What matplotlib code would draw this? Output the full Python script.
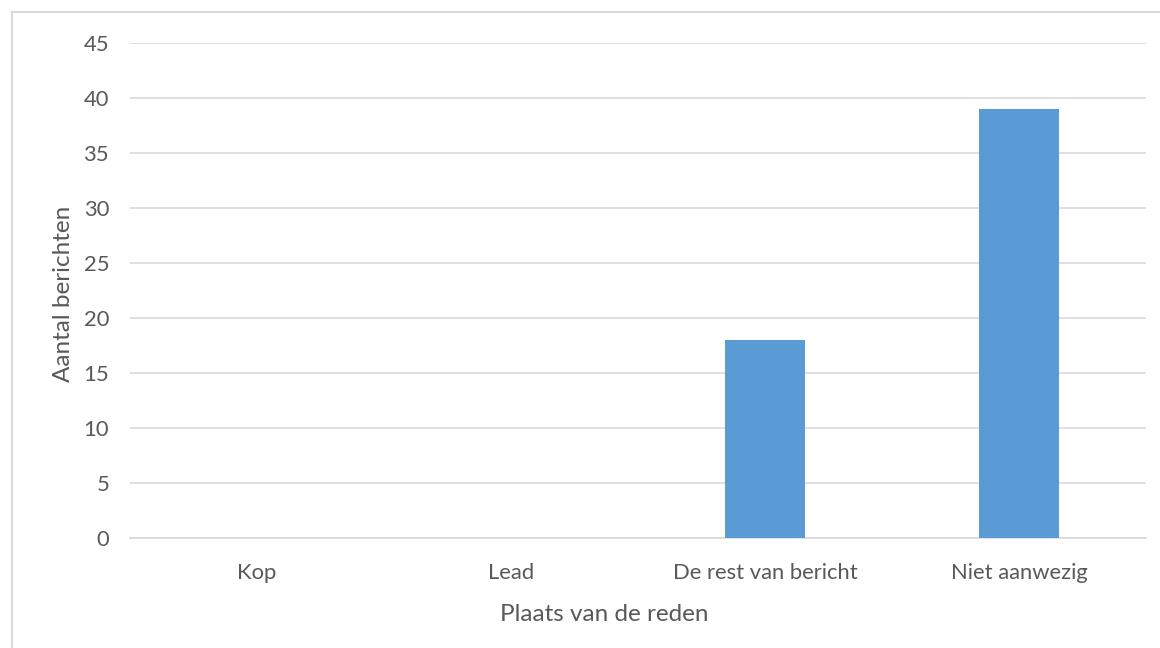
import matplotlib
matplotlib.use("Agg")
import matplotlib.pyplot as plt
from matplotlib.lines import Line2D

categories = ["Kop", "Lead", "De rest van bericht", "Niet aanwezig"]
counts = [0, 0, 18, 39]
y_ticks = [0, 5, 10, 15, 20, 25, 30, 35, 40, 45]

plt.rcParams['font.family'] = ['Lato', 'DejaVu Sans']

W, H = 1160, 648
fig = plt.figure(figsize=(W / 100, H / 100), dpi=100)
ax = fig.add_axes([130 / W, 1 - 538 / H, (1146 - 130) / W, (538 - 43) / H])

text_col = "#595959"
grid_col = "#D9D9D9"

ax.bar(range(len(categories)), counts, width=0.316, color="#5B9BD5", zorder=3)
ax.set_xlim(-0.5, len(categories) - 0.5)
ax.set_ylim(0, 45)
ax.set_yticks(y_ticks)
ax.set_xticks(range(len(categories)))
ax.set_xticklabels(categories)

ax.yaxis.grid(True, color=grid_col, linewidth=1.2, zorder=0)
ax.set_axisbelow(True)
for s in ["top", "right", "left"]:
    ax.spines[s].set_visible(False)
ax.spines["bottom"].set_color(grid_col)
ax.spines["bottom"].set_linewidth(1.2)
ax.tick_params(axis="both", length=0, labelsize=15.8, colors=text_col)
ax.tick_params(axis="y", pad=15)
ax.tick_params(axis="x", pad=18)

ax.set_ylabel("Aantal berichten", fontsize=17.5, color=text_col, labelpad=7)
ax.set_xlabel("Plaats van de reden", fontsize=17.5, color=text_col, labelpad=15)
ax.xaxis.label.set_x(0.4665)
ax.yaxis.label.set_y(0.493)

# outer chart frame (left and top edges)
fig.add_artist(Line2D([11.5 / W, 11.5 / W], [0, 1 - 12 / H], color=grid_col, linewidth=1.5))
fig.add_artist(Line2D([11.5 / W, 1], [1 - 12 / H, 1 - 12 / H], color=grid_col, linewidth=1.5))

fig.savefig("out.png", dpi=100, facecolor="white")
